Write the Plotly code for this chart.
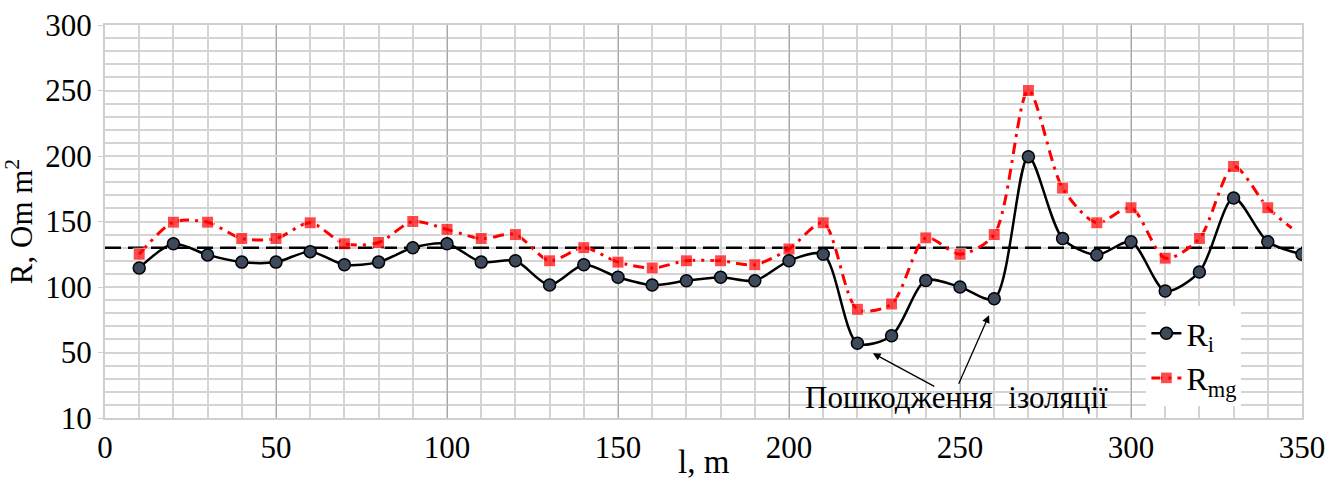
import plotly.graph_objects as go

# ---- data ----
x_ri = [10, 20, 30, 40, 50, 60, 70, 80, 90, 100, 110, 120, 130, 140, 150, 160, 170,
        180, 190, 200, 210, 220, 230, 240, 250, 260, 270, 280, 290, 300, 310, 320,
        330, 340, 350]
r_i = [114.5, 133, 124.5, 119, 119, 127, 117, 119, 130, 133, 119, 120, 101.5, 117,
       107.5, 101.5, 104.8, 107.5, 104.8, 120, 125, 57, 62.8, 105, 100, 91, 199.5,
       137, 124.5, 134.5, 97, 111.5, 168, 134.5, 125]

x_rmg = [10, 20, 30, 40, 50, 60, 70, 80, 90, 100, 110, 120, 130, 140, 150, 160, 170,
         180, 190, 200, 210, 220, 230, 240, 250, 260, 270, 280, 290, 300, 310, 320,
         330, 340, 347]
r_mg = [125, 149.5, 149.5, 137, 137, 149, 133, 134, 150, 144, 137, 140, 120, 130,
        119, 114.5, 120, 120, 117, 129, 149, 83, 87, 137.5, 125, 140, 250, 175.5,
        149, 160.5, 122, 137, 192, 160.5, 145]

limit_x = [0, 350]
limit_y = [130, 130]

y_tickvals = [0, 50, 100, 150, 200, 250, 300]
y_ticktext = ["10", "50", "100", "150", "200", "250", "300"]
x_tickvals = [0, 50, 100, 150, 200, 250, 300, 350]

ann_text = "Пошкодження  ізоляції"
ann_pos = (249, 16)
arrow_heads = [(224.5, 49.5), (258.5, 78.5)]
arrow_offsets = [(63, 34), (-31, 70)]

FONT = "Liberation Serif"
TICKFONT = dict(family=FONT, size=31, color="black")

fig = go.Figure()

fig.add_trace(go.Scatter(
    x=limit_x, y=limit_y, mode="lines", showlegend=False, hoverinfo="skip",
    line=dict(color="black", width=2.5, dash="16px,7px"),
))

fig.add_trace(go.Scatter(
    x=x_rmg, y=r_mg, mode="lines+markers", name="R<sub>mg</sub>",
    line=dict(color="#ff0000", width=3, dash="11px,6px,3px,6px", shape="spline", smoothing=0.8),
    marker=dict(symbol="square", size=[12] * (len(x_rmg) - 1) + [0], color="#ff0000"),
))

fig.add_trace(go.Scatter(
    x=x_ri, y=r_i, mode="lines+markers", name="R<sub>i</sub>",
    line=dict(color="black", width=2.5, shape="spline", smoothing=0.8),
    marker=dict(symbol="circle", size=12, color="#3c4a5c", line=dict(color="black", width=1.5)),
))

for (hx, hy), (ax, ay) in zip(arrow_heads, arrow_offsets):
    fig.add_annotation(x=hx, y=hy, xref="x", yref="y", text="", showarrow=True,
                       ax=ax, ay=ay, arrowhead=2, arrowsize=1.2, arrowwidth=1.3,
                       arrowcolor="black")

fig.add_annotation(x=ann_pos[0], y=ann_pos[1], xref="x", yref="y", text=ann_text,
                   showarrow=False, font=dict(family=FONT, size=31, color="black"),
                   bgcolor="rgba(0,0,0,0)")

# x-axis title placed just under the tick labels, inside the figure
fig.add_annotation(x=0.5, y=0, xref="paper", yref="paper", text="l, m",
                   showarrow=False, yanchor="bottom", yshift=-63, borderpad=0,
                   font=dict(family=FONT, size=33, color="black"))

fig.update_layout(
    width=1344, height=481,
    margin=dict(l=105, r=42, t=25, b=63),
    paper_bgcolor="white", plot_bgcolor="white",
    font=dict(family=FONT, size=30, color="black"),
    legend=dict(x=0.87, y=0.285, xanchor="left", yanchor="top",
                bgcolor="white", font=dict(family=FONT, size=32, color="black"),
                traceorder="reversed", tracegroupgap=0),
    xaxis=dict(range=[0, 350], tickvals=x_tickvals, showgrid=True, automargin=False,
               tickfont=TICKFONT,
               gridcolor="#a8a8a8", gridwidth=1,
               minor=dict(dtick=10, showgrid=True, gridcolor="#d4d4d4", gridwidth=2),
               showline=True, linecolor="#cfcfcf", linewidth=2, mirror=True,
               ticks="outside", ticklen=1, tickcolor="white",
               zeroline=False),
    yaxis=dict(range=[0, 300], tickvals=y_tickvals, ticktext=y_ticktext, showgrid=True,
               automargin=False,
               tickfont=TICKFONT,
               gridcolor="#d4d4d4", gridwidth=2,
               minor=dict(dtick=10, showgrid=True, gridcolor="#d4d4d4", gridwidth=2),
               showline=True, linecolor="#cfcfcf", linewidth=2, mirror=True,
               ticks="outside", ticklen=5, tickcolor="#cfcfcf",
               zeroline=False,
               title=dict(text="R, Om m<sup>2</sup>", standoff=4, font=dict(family=FONT, size=31))),
)

fig.write_html("out.html")
